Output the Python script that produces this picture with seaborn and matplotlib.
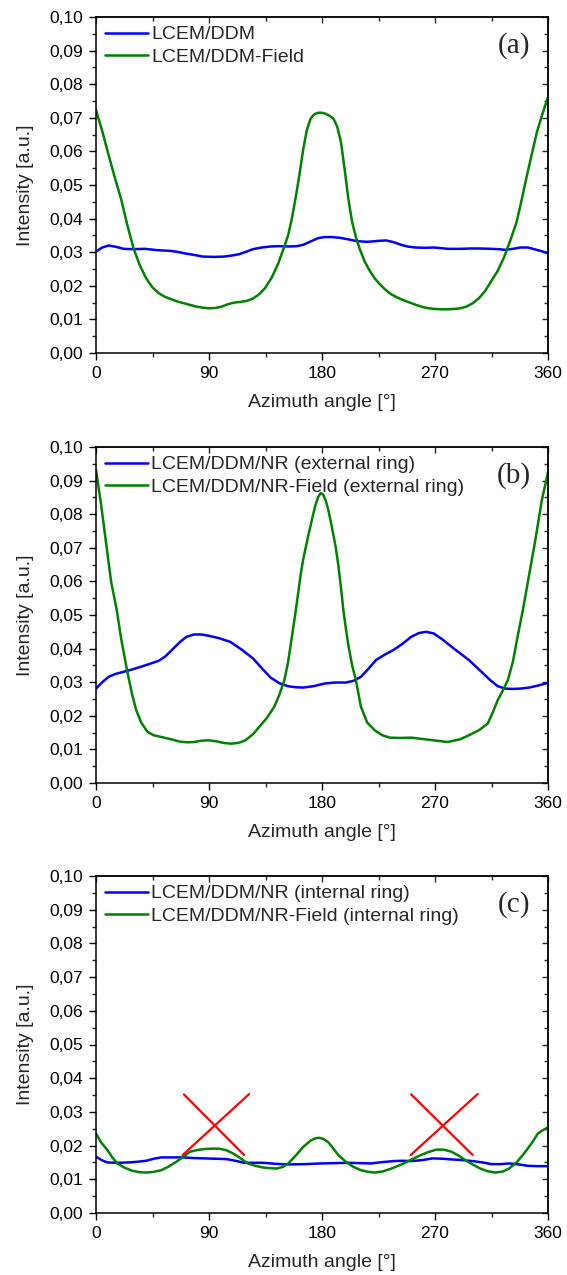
import numpy as np
import pandas as pd
import seaborn as sns
import matplotlib
matplotlib.use("Agg")
import matplotlib.pyplot as plt
from matplotlib.ticker import MultipleLocator, FuncFormatter

# ---------------- data ----------------
# (a) LCEM/DDM
a_ref_angle = [0, 5, 10, 16, 22, 30, 39, 49, 59, 65, 70, 78, 85, 94, 102, 108, 114, 120,
               125, 132, 139, 146, 154, 160, 165, 171, 177, 182, 188, 194, 200, 205, 211,
               216, 220, 226, 231, 237, 243, 248, 254, 262, 269, 275, 280, 290, 298, 306,
               315, 321, 326, 332, 338, 344, 349, 355, 360]
a_ref_val = [0.0302, 0.0314, 0.0320, 0.0316, 0.0310, 0.0309, 0.0310, 0.0306, 0.0304, 0.0301,
             0.0297, 0.0292, 0.0287, 0.0286, 0.0287, 0.0290, 0.0294, 0.0302, 0.0309, 0.0314,
             0.0317, 0.0318, 0.0317, 0.0318, 0.0322, 0.0332, 0.0342, 0.0345, 0.0345, 0.0343,
             0.0339, 0.0335, 0.0332, 0.0331, 0.0332, 0.0334, 0.0335, 0.0330, 0.0322, 0.0317,
             0.0314, 0.0313, 0.0314, 0.0312, 0.0310, 0.0310, 0.0311, 0.0311, 0.0310, 0.0309,
             0.0307, 0.0310, 0.0314, 0.0314, 0.0309, 0.0303, 0.0297]
# (a) LCEM/DDM-Field
a_fld_angle = [0, 5, 10, 15, 20, 25, 30, 35, 40, 45, 50, 55, 60, 65, 70, 75, 80, 85, 90, 95,
               100, 105, 110, 115, 120, 125, 130, 135, 140, 145, 150, 153, 156, 159, 162,
               165, 168, 171, 174, 177, 180, 183, 186, 189, 192, 195, 198, 201, 204, 207,
               210, 214, 218, 222, 226, 230, 235, 240, 245, 250, 255, 260, 265, 270, 275,
               280, 285, 290, 295, 300, 305, 310, 315, 320, 325, 330, 335, 339, 343, 347,
               351, 355, 360]
a_fld_val = [0.0723, 0.0660, 0.0590, 0.0522, 0.0458, 0.0380, 0.0310, 0.0260, 0.0222, 0.0195,
             0.0178, 0.0167, 0.0160, 0.0153, 0.0148, 0.0143, 0.0138, 0.0135, 0.0133, 0.0134,
             0.0138, 0.0145, 0.0150, 0.0152, 0.0155, 0.0162, 0.0175, 0.0195, 0.0225, 0.0265,
             0.0317, 0.0350, 0.0400, 0.0462, 0.0530, 0.0605, 0.0665, 0.0698, 0.0711, 0.0715,
             0.0715, 0.0712, 0.0706, 0.0698, 0.0675, 0.0630, 0.0548, 0.0458, 0.0390, 0.0345,
             0.0310, 0.0272, 0.0245, 0.0222, 0.0205, 0.0190, 0.0175, 0.0165, 0.0157, 0.0150,
             0.0143, 0.0137, 0.0133, 0.0131, 0.0130, 0.0130, 0.0131, 0.0133, 0.0138, 0.0148,
             0.0163, 0.0185, 0.0215, 0.0245, 0.0285, 0.0335, 0.0390, 0.0455, 0.0525, 0.0590,
             0.0655, 0.0705, 0.0762]

# (b) LCEM/DDM/NR (external ring)
b_ref_angle = [0, 5, 10, 15, 21, 27, 35, 44, 50, 55, 61, 67, 72, 78, 84, 90, 98, 107, 116,
               125, 132, 139, 146, 153, 159, 165, 173, 182, 190, 199, 205, 211, 217, 223,
               230, 237, 244, 251, 257, 263, 269, 276, 283, 290, 297, 305, 314, 320, 326,
               332, 338, 345, 352, 360]
b_ref_val = [0.0281, 0.0300, 0.0316, 0.0324, 0.0330, 0.0336, 0.0345, 0.0356, 0.0364, 0.0376,
             0.0398, 0.0420, 0.0435, 0.0442, 0.0442, 0.0438, 0.0431, 0.0420, 0.0397, 0.0371,
             0.0342, 0.0314, 0.0297, 0.0288, 0.0285, 0.0284, 0.0288, 0.0296, 0.0299, 0.0299,
             0.0304, 0.0316, 0.0340, 0.0366, 0.0382, 0.0396, 0.0414, 0.0435, 0.0446, 0.0450,
             0.0445, 0.0427, 0.0406, 0.0386, 0.0366, 0.0338, 0.0306, 0.0288, 0.0281, 0.0280,
             0.0281, 0.0284, 0.0290, 0.0298]
# (b) LCEM/DDM/NR-Field (external ring)
b_fld_angle = [0, 4, 8, 12, 16.5, 20, 25, 29, 32, 36, 41, 46, 52, 60, 67, 73, 78, 84, 90,
               96, 102, 108, 114, 119, 125, 130, 136, 142, 146, 150, 153, 155, 157, 159, 161,
               163, 165, 167, 169, 171, 173, 175, 177, 179, 181, 183, 185, 187, 189, 191, 193,
               195, 197, 199, 201, 204, 207, 211, 216, 222, 228, 234, 242, 251, 260, 269, 280,
               290, 297, 305, 312, 316, 320, 324, 328, 332, 336, 340, 345, 350, 355, 360]
b_fld_val = [0.0932, 0.0830, 0.0715, 0.0600, 0.0515, 0.0430, 0.0330, 0.0260, 0.0217, 0.0180,
             0.0152, 0.0142, 0.0137, 0.0130, 0.0123, 0.0121, 0.0122, 0.0126, 0.0127, 0.0124,
             0.0119, 0.0117, 0.0120, 0.0127, 0.0145, 0.0167, 0.0193, 0.0227, 0.0262, 0.0306,
             0.0360, 0.0410, 0.0460, 0.0510, 0.0565, 0.0620, 0.0665, 0.0700, 0.0735, 0.0768,
             0.0800, 0.0830, 0.0852, 0.0863, 0.0858, 0.0840, 0.0813, 0.0778, 0.0740, 0.0700,
             0.0648, 0.0585, 0.0515, 0.0460, 0.0410, 0.0350, 0.0306, 0.0227, 0.0180, 0.0157,
             0.0142, 0.0135, 0.0134, 0.0135, 0.0131, 0.0127, 0.0122, 0.0130, 0.0142, 0.0157,
             0.0177, 0.0210, 0.0247, 0.0275, 0.0306, 0.0360, 0.0440, 0.0515, 0.0620, 0.0725,
             0.0840, 0.0925]

# (c) LCEM/DDM/NR (internal ring)
c_ref_angle = [0, 5, 9, 18, 26, 33, 40, 46, 52, 60, 69, 78, 87, 95, 104, 111, 118, 126, 133,
               143, 153, 166, 179, 190, 202, 210, 219, 228, 237, 244, 251, 260, 268, 276, 283,
               292, 300, 308, 315, 322, 329, 337, 344, 352, 360]
c_ref_val = [0.0167, 0.0156, 0.0150, 0.0149, 0.0150, 0.0152, 0.0155, 0.0161, 0.0165, 0.0165,
             0.0165, 0.0163, 0.0162, 0.0161, 0.0160, 0.0155, 0.0149, 0.0149, 0.0149, 0.0146,
             0.0144, 0.0145, 0.0147, 0.0148, 0.0149, 0.0148, 0.0147, 0.0151, 0.0154, 0.0155,
             0.0154, 0.0157, 0.0162, 0.0161, 0.0159, 0.0157, 0.0154, 0.0150, 0.0145, 0.0145,
             0.0147, 0.0144, 0.0140, 0.0139, 0.0139]
# (c) LCEM/DDM/NR-Field (internal ring)
c_fld_angle = [0, 4, 9, 13, 17, 23, 29, 35, 40, 46, 52, 58, 64, 70, 75, 81, 87, 93, 98, 104,
               110, 116, 121, 127, 133, 139, 144, 149, 153, 159, 165, 171, 175, 178, 181, 185,
               188, 193, 199, 205, 211, 217, 222, 228, 234, 240, 245, 251, 257, 264, 271, 277,
               283, 289, 294, 300, 306, 312, 318, 324, 329, 335, 341, 347, 352, 356, 360]
c_fld_val = [0.0236, 0.0210, 0.0187, 0.0165, 0.0147, 0.0134, 0.0125, 0.0121, 0.0120, 0.0122,
             0.0127, 0.0138, 0.0152, 0.0168, 0.0182, 0.0187, 0.0190, 0.0191, 0.0191, 0.0186,
             0.0175, 0.0160, 0.0147, 0.0140, 0.0135, 0.0133, 0.0132, 0.0137, 0.0147, 0.0170,
             0.0196, 0.0215, 0.0222, 0.0223, 0.0220, 0.0210, 0.0196, 0.0172, 0.0152, 0.0137,
             0.0127, 0.0122, 0.0120, 0.0123, 0.0130, 0.0139, 0.0147, 0.0158, 0.0169, 0.0180,
             0.0188, 0.0188, 0.0182, 0.0170, 0.0157, 0.0144, 0.0132, 0.0124, 0.0120, 0.0123,
             0.0132, 0.0150, 0.0177, 0.0207, 0.0236, 0.0246, 0.0254]

# red crosses marking the suppressed side peaks in (c): (x0, y0, x1, y1) per stroke
cross_strokes = [
    (70, 0.0352, 118, 0.0172), (69, 0.0172, 122, 0.0353),
    (251, 0.0352, 300, 0.0172), (250.6, 0.0172, 304, 0.0353),
]

panels = [
    ("(a)", a_ref_angle, a_ref_val, a_fld_angle, a_fld_val,
     "LCEM/DDM", "LCEM/DDM-Field"),
    ("(b)", b_ref_angle, b_ref_val, b_fld_angle, b_fld_val,
     "LCEM/DDM/NR (external ring)", "LCEM/DDM/NR-Field (external ring)"),
    ("(c)", c_ref_angle, c_ref_val, c_fld_angle, c_fld_val,
     "LCEM/DDM/NR (internal ring)", "LCEM/DDM/NR-Field (internal ring)"),
]

x_ticks = [0, 90, 180, 270, 360]

# ---------------- style ----------------
sns.set_theme(style="ticks")
plt.rcParams["font.family"] = ["Liberation Sans", "DejaVu Sans"]
plt.rcParams["axes.linewidth"] = 1.1

W, H = 567, 1275
fig = plt.figure(figsize=(W / 100, H / 100), dpi=100)

# axes boxes in pixels: (left, top, right, bottom)
boxes = [(96, 17, 548, 353), (96, 447, 548, 783), (96, 876, 548, 1213)]

comma = FuncFormatter(lambda v, p: f"{v:.2f}".replace(".", ","))

for i, (box, panel) in enumerate(zip(boxes, panels)):
    tag, xr, yr, xf, yf, lab_r, lab_f = panel
    l, t, r, b = box
    ax = fig.add_axes([l / W, 1 - b / H, (r - l) / W, (b - t) / H])

    df_r = pd.DataFrame({"angle": xr, "intensity": yr})
    df_f = pd.DataFrame({"angle": xf, "intensity": yf})
    sns.lineplot(data=df_r, x="angle", y="intensity", ax=ax, color="#0000ff",
                 lw=1.8, label=lab_r, sort=False)
    sns.lineplot(data=df_f, x="angle", y="intensity", ax=ax, color="#008000",
                 lw=1.8, label=lab_f, sort=False)

    if i == 2:
        for x0, y0, x1, y1 in cross_strokes:
            ax.plot([x0, x1], [y0, y1], color="#ff0000", lw=1.6)

    ax.set_xlim(0, 360)
    ax.set_ylim(0, 0.10)
    ax.set_xticks(x_ticks)
    ax.xaxis.set_minor_locator(MultipleLocator(45))
    ax.yaxis.set_major_locator(MultipleLocator(0.01))
    ax.yaxis.set_minor_locator(MultipleLocator(0.005))
    ax.yaxis.set_major_formatter(comma)
    ax.tick_params(which="major", direction="out", length=5, width=1.0,
                   labelsize=12.5, colors="black", pad=4)
    ax.tick_params(which="minor", direction="out", length=3, width=1.0)
    for s in ax.spines.values():
        s.set_color("black")
        s.set_visible(True)

    # mirrored inward ticks on top and right
    top = ax.secondary_xaxis("top")
    top.set_xticks(x_ticks)
    top.xaxis.set_minor_locator(MultipleLocator(45))
    top.tick_params(which="both", direction="in", labeltop=False, width=1.0)
    top.tick_params(which="major", length=4)
    top.tick_params(which="minor", length=3)
    right = ax.secondary_yaxis("right")
    right.yaxis.set_major_locator(MultipleLocator(0.01))
    right.yaxis.set_minor_locator(MultipleLocator(0.005))
    right.tick_params(which="both", direction="in", labelright=False, width=1.0)
    right.tick_params(which="major", length=4)
    right.tick_params(which="minor", length=3)

    ax.set_xlabel("Azimuth angle [°]", fontsize=14, labelpad=10)
    ax.set_ylabel("Intensity [a.u.]", fontsize=14, labelpad=11)

    ax.legend(loc="upper left", bbox_to_anchor=(0.0, 1.0), frameon=False,
              fontsize=14, handlelength=2.2, handletextpad=0.2,
              labelspacing=0.26, borderaxespad=0.25, borderpad=0.2)

    ax.text(0.925, 0.915, tag, transform=ax.transAxes, ha="center", va="center",
            fontsize=21, family=["Liberation Serif", "DejaVu Serif"])

fig.savefig("out.png", dpi=100)
